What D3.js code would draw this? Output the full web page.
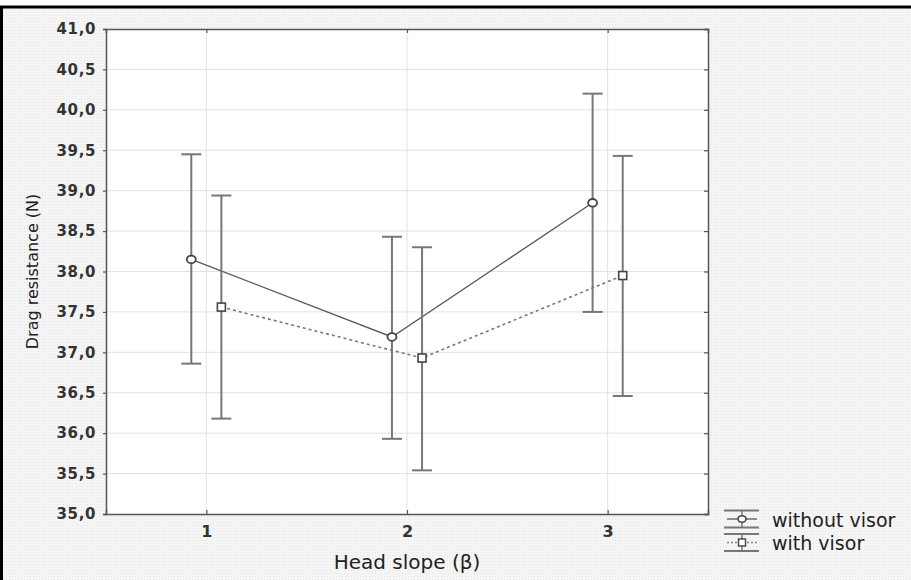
<!DOCTYPE html>
<html>
<head>
<meta charset="utf-8">
<script src="https://cdnjs.cloudflare.com/ajax/libs/d3/7.8.5/d3.min.js"></script>
<style>
  html, body { margin: 0; padding: 0; background: #fff; }
  svg { display: block; font-family: "DejaVu Sans", "Liberation Sans", Arial, sans-serif; }
</style>
</head>
<body>
<div id="chart"></div>
<script>
// data
const categories = [1, 2, 3];
const seriesNames = ["without visor", "with visor"];
const withoutMean = [38.15, 37.19, 38.85];
const withoutLow = [36.86, 35.93, 37.50];
const withoutHigh = [39.45, 38.43, 40.20];
const withMean = [37.56, 36.93, 37.95];
const withLow = [36.18, 35.54, 36.46];
const withHigh = [38.94, 38.30, 39.43];
const yTicks = [35, 35.5, 36, 36.5, 37, 37.5, 38, 38.5, 39, 39.5, 40, 40.5, 41];

const width = 911;
const height = 580;
const plot = { left: 106, top: 29, right: 708, bottom: 514 };

const svg = d3.select("#chart").append("svg")
  .attr("width", width).attr("height", height);

// dotted grey background pattern
const defs = svg.append("defs");
const pat = defs.append("pattern").attr("id", "dots")
  .attr("width", 3).attr("height", 3).attr("patternUnits", "userSpaceOnUse");
pat.append("rect").attr("width", 3).attr("height", 3).attr("fill", "#f5f5f5");
pat.append("rect").attr("width", 1).attr("height", 1).attr("fill", "#e6e6e6");

svg.append("rect").attr("x", 0).attr("y", 0).attr("width", width).attr("height", height).attr("fill", "#fff");
svg.append("rect").attr("x", 3).attr("y", 8).attr("width", width - 3).attr("height", height - 8)
  .attr("fill", "url(#dots)");
// black frame top and left
svg.append("line").attr("x1", 0).attr("x2", width).attr("y1", 7).attr("y2", 7)
  .attr("stroke", "#000").attr("stroke-width", 3);
svg.append("line").attr("x1", 1.5).attr("x2", 1.5).attr("y1", 6).attr("y2", height)
  .attr("stroke", "#000").attr("stroke-width", 3);

// scales
const x = d3.scaleLinear().domain([0.5, 3.5]).range([plot.left, plot.right]);
const y = d3.scaleLinear().domain([35, 41]).range([plot.bottom, plot.top]);

svg.append("rect")
  .attr("x", plot.left).attr("y", plot.top)
  .attr("width", plot.right - plot.left).attr("height", plot.bottom - plot.top)
  .attr("fill", "#fff");

// grid
const grid = svg.append("g").attr("stroke", "#e2e2e2").attr("stroke-width", 1);
grid.selectAll(".hg").data(yTicks.slice(1, -1)).join("line")
  .attr("x1", plot.left).attr("x2", plot.right)
  .attr("y1", d => y(d)).attr("y2", d => y(d));
grid.selectAll(".vg").data(categories).join("line")
  .attr("y1", plot.top).attr("y2", plot.bottom)
  .attr("x1", d => x(d)).attr("x2", d => x(d));

// axes
const axisColor = "#555";
const axLeft = svg.append("g").attr("transform", `translate(${plot.left},0)`)
  .call(d3.axisLeft(y).tickValues(yTicks).tickSize(3).tickPadding(7)
    .tickFormat(d => d3.format(".1f")(d).replace(".", ",")));
const axRight = svg.append("g").attr("transform", `translate(${plot.right},0)`)
  .call(d3.axisLeft(y).tickValues(yTicks).tickSize(4).tickFormat(""));
const axBottom = svg.append("g").attr("transform", `translate(0,${plot.bottom})`)
  .call(d3.axisTop(x).tickValues(categories).tickSize(4).tickFormat(""));
const axTop = svg.append("g").attr("transform", `translate(0,${plot.top})`)
  .call(d3.axisBottom(x).tickValues(categories).tickSize(4).tickFormat(""));
const bottomLabels = svg.append("g").attr("transform", `translate(0,${plot.bottom})`)
  .call(d3.axisBottom(x).tickValues(categories).tickSize(0).tickPadding(12).tickFormat(d3.format("d")));
bottomLabels.select(".domain").remove();

[axLeft, axRight, axBottom, axTop, bottomLabels].forEach(g => {
  g.attr("font-family", null).attr("font-size", null);
  g.select(".domain").attr("stroke", axisColor).attr("stroke-width", 1.5);
  g.selectAll(".tick line").attr("stroke", axisColor).attr("stroke-width", 1.2);
});
axLeft.selectAll("text").style("font-size", "15px").attr("font-weight", "bold")
  .attr("letter-spacing", 0.6).attr("fill", "#333");
bottomLabels.selectAll("text").style("font-size", "16px").attr("font-weight", "bold").attr("fill", "#333");

// axis titles
svg.append("text")
  .attr("transform", `translate(38,${(plot.top + plot.bottom) / 2}) rotate(-90)`)
  .attr("text-anchor", "middle").attr("font-size", 16).attr("fill", "#222")
  .text("Drag resistance (N)");
svg.append("text")
  .attr("x", x(2)).attr("y", 569)
  .attr("text-anchor", "middle").attr("font-size", 20).attr("fill", "#222")
  .text("Head slope (β)");

// series
const offset = 0.075;
const series = [
  { name: seriesNames[0], mean: withoutMean, low: withoutLow, high: withoutHigh, dx: -offset, dash: null, marker: "circle" },
  { name: seriesNames[1], mean: withMean, low: withLow, high: withHigh, dx: offset, dash: "3,3", marker: "square" }
];
const capHalf = 10;
const markColor = "#444";

series.forEach(s => {
  const pts = categories.map((c, i) => ({ c: c + s.dx, m: s.mean[i], lo: s.low[i], hi: s.high[i] }));
  const g = svg.append("g");
  // error bars
  const eb = g.append("g").attr("stroke", "#777").attr("stroke-width", 2);
  eb.selectAll(".v").data(pts).join("line")
    .attr("x1", d => x(d.c)).attr("x2", d => x(d.c))
    .attr("y1", d => y(d.lo)).attr("y2", d => y(d.hi));
  eb.selectAll(".t").data(pts).join("line")
    .attr("x1", d => x(d.c) - capHalf).attr("x2", d => x(d.c) + capHalf)
    .attr("y1", d => y(d.hi)).attr("y2", d => y(d.hi));
  eb.selectAll(".b").data(pts).join("line")
    .attr("x1", d => x(d.c) - capHalf).attr("x2", d => x(d.c) + capHalf)
    .attr("y1", d => y(d.lo)).attr("y2", d => y(d.lo));
  // mean line
  g.append("path").datum(pts)
    .attr("fill", "none").attr("stroke", s.dash ? "#777" : "#555").attr("stroke-width", s.dash ? 1.6 : 1.3)
    .attr("stroke-dasharray", s.dash)
    .attr("d", d3.line().x(d => x(d.c)).y(d => y(d.m)));
  // markers
  if (s.marker === "circle") {
    g.selectAll(".m").data(pts).join("ellipse")
      .attr("cx", d => x(d.c)).attr("cy", d => y(d.m)).attr("rx", 4.5).attr("ry", 3.8)
      .attr("fill", "#fff").attr("stroke", markColor).attr("stroke-width", 1.8);
  } else {
    g.selectAll(".m").data(pts).join("rect")
      .attr("x", d => x(d.c) - 4).attr("y", d => y(d.m) - 4).attr("width", 8).attr("height", 8)
      .attr("fill", "#fff").attr("stroke", markColor).attr("stroke-width", 1.6);
  }
});

// legend
const legend = svg.append("g").attr("transform", "translate(724,519)");
series.forEach((s, i) => {
  const gy = i * 23.5;
  const lg = legend.append("g").attr("transform", `translate(0,${gy})`);
  const cx = 18;
  lg.append("line").attr("x1", 0).attr("x2", 35).attr("y1", -8.5).attr("y2", -8.5)
    .attr("stroke", "#777").attr("stroke-width", 1.8);
  lg.append("line").attr("x1", 0).attr("x2", 35).attr("y1", 8.5).attr("y2", 8.5)
    .attr("stroke", "#777").attr("stroke-width", 1.8);
  lg.append("line").attr("x1", cx).attr("x2", cx).attr("y1", -8.5).attr("y2", 8.5)
    .attr("stroke", "#777").attr("stroke-width", 1.5);
  lg.append("line").attr("x1", 3).attr("x2", 33).attr("y1", 0).attr("y2", 0)
    .attr("stroke", s.dash ? "#888" : "#555").attr("stroke-width", 1.3)
    .attr("stroke-dasharray", s.dash ? "2,2" : null);
  if (s.marker === "circle") {
    lg.append("ellipse").attr("cx", cx).attr("cy", 0).attr("rx", 4).attr("ry", 3.3)
      .attr("fill", "#fff").attr("stroke", markColor).attr("stroke-width", 1.6);
  } else {
    lg.append("rect").attr("x", cx - 3.5).attr("y", -3.5).attr("width", 7).attr("height", 7)
      .attr("fill", "#fff").attr("stroke", markColor).attr("stroke-width", 1.4);
  }
  lg.append("text").attr("x", 48).attr("y", 7.5).attr("font-size", 19).attr("fill", "#222")
    .text(s.name);
});
</script>
</body>
</html>
